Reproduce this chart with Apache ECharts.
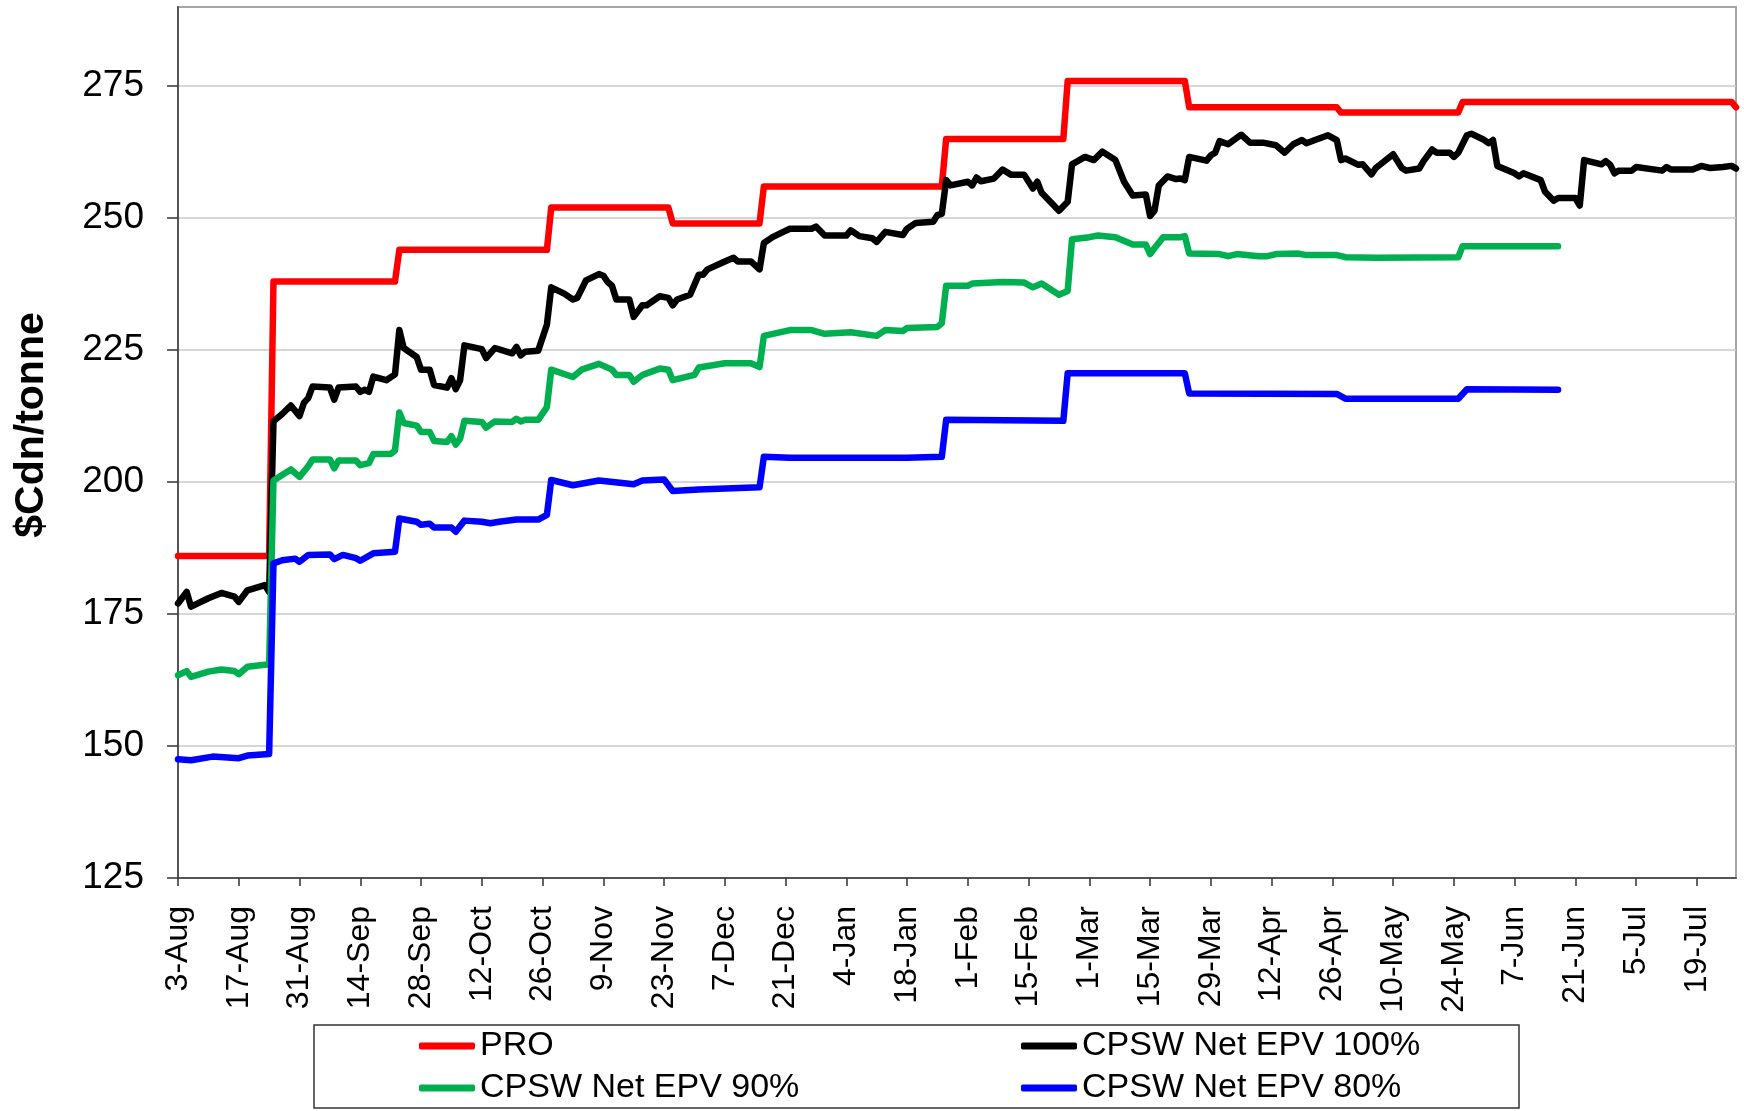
<!DOCTYPE html>
<html>
<head>
<meta charset="utf-8">
<title>PRO vs CPSW Net EPV</title>
<script src="https://cdn.jsdelivr.net/npm/echarts/dist/echarts.min.js"></script>
<style>
  html, body { margin: 0; padding: 0; background: #fff; }
  #chart { width: 1744px; height: 1111px; }
</style>
</head>
<body>
<div id="chart"></div>
<script>
// x values are days counted from 3-Aug (2009 crop year)
const xTickLabels = ['3-Aug', '17-Aug', '31-Aug', '14-Sep', '28-Sep', '12-Oct', '26-Oct',
  '9-Nov', '23-Nov', '7-Dec', '21-Dec', '4-Jan', '18-Jan', '1-Feb', '15-Feb', '1-Mar',
  '15-Mar', '29-Mar', '12-Apr', '26-Apr', '10-May', '24-May', '7-Jun', '21-Jun', '5-Jul', '19-Jul'];
const yTicks = [125, 150, 175, 200, 225, 250, 275];

const seriesNames = ['PRO', 'CPSW Net EPV 100%', 'CPSW Net EPV 90%', 'CPSW Net EPV 80%'];
const seriesColors = ['#ff0000', '#000000', '#00b050', '#0000ff'];

const pro = [[0, 186], [21, 186], [22, 238], [50, 238], [51, 244], [85, 244], [86, 252],
  [113, 252], [114, 249], [134, 249], [135, 256], [176, 256], [177, 265], [204, 265],
  [205, 276], [232, 276], [233, 271], [267, 271], [268, 270], [295, 270], [296, 272],
  [358, 272], [359, 271]];

const net100 = [[0, 177], [2, 179.2], [3, 176.4], [7, 178], [10, 179], [13, 178.3], [14, 177.3],
  [16, 179.5], [20, 180.5], [21, 179.2], [22, 211.5], [24, 212.9], [26, 214.5], [28, 212.5],
  [29, 215], [30, 215.9], [31, 218.1], [35, 217.9], [36, 215.6], [37, 217.9], [41, 218.1],
  [42, 217.1], [43, 217.5], [44, 217.1], [45, 220], [48, 219.3], [50, 220.4], [51, 228.8],
  [52, 225.4], [55, 223.7], [56, 221.3], [58, 221.3], [59, 218.4], [62, 217.9], [63, 219.7],
  [64, 217.6], [65, 219.3], [66, 225.9], [70, 225.2], [71, 223.5], [73, 225.4], [77, 224.4],
  [78, 225.6], [79, 224], [80, 224.7], [83, 224.9], [85, 229.8], [86, 236.9], [89, 235.7],
  [91, 234.6], [92, 234.9], [94, 238.2], [97, 239.4], [98, 239.1], [99, 237.9], [100, 237.2],
  [101, 234.6], [104, 234.6], [105, 231.3], [107, 233.5], [108, 233.5], [111, 235.2],
  [113, 234.9], [114, 233.5], [115, 234.6], [118, 235.5], [120, 239.3], [121, 239.3],
  [122, 240.3], [126, 241.8], [128, 242.5], [129, 241.8], [132, 241.8], [134, 240.3],
  [135, 245.3], [137, 246.4], [139, 247.2], [141, 248], [146, 248], [147, 248.4], [149, 246.7],
  [154, 246.7], [155, 247.7], [157, 246.6], [160, 246.2], [161, 245.5], [163, 247.4],
  [167, 246.8], [168, 248], [170, 249.1], [174, 249.3], [175, 250.6], [176, 250.8], [177, 257.2],
  [178, 256.2], [182, 256.9], [183, 256.2], [184, 257.7], [185, 257], [188, 257.5], [190, 259.2],
  [192, 258.2], [195, 258.2], [197, 255.6], [198, 256.9], [199, 254.8], [203, 251.4],
  [205, 253.1], [206, 260.2], [209, 261.6], [211, 261], [213, 262.6], [216, 261], [218, 256.9],
  [220, 254.3], [223, 254.5], [224, 250.4], [225, 251.4], [226, 256.2], [228, 257.9],
  [230, 257.4], [231, 257.5], [232, 257.2], [233, 261.6], [237, 260.9], [238, 261.9],
  [239, 262.4], [240, 264.6], [242, 264], [245, 265.8], [247, 264.3], [250, 264.3], [253, 263.8],
  [255, 262.4], [257, 264], [259, 264.8], [260, 264.2], [262, 264.8], [265, 265.7], [267, 264.8],
  [268, 261], [269, 261.3], [272, 260.1], [273, 260.2], [275, 258.3], [276, 259.5], [280, 262.1],
  [282, 259.5], [283, 259], [286, 259.4], [287, 260.8], [289, 263], [290, 262.4], [293, 262.4],
  [294, 261.6], [295, 262.4], [297, 265.7], [298, 266], [301, 264.8], [302, 264.2], [303, 264.8],
  [304, 259.9], [308, 258.5], [309, 257.9], [310, 258.5], [314, 257.2], [315, 255], [317, 253.3],
  [318, 253.8], [322, 253.8], [323, 252.4], [324, 261], [328, 260.2], [329, 260.8], [330, 260.1],
  [331, 258.5], [332, 259], [335, 259], [336, 259.7], [342, 259], [343, 259.7], [344, 259.2],
  [349, 259.2], [351, 259.9], [353, 259.5], [356, 259.7], [358, 259.9], [359, 259.4]];

const net90 = [[0, 163.4], [2, 164.2], [3, 163.1], [7, 164.1], [10, 164.5], [13, 164.2],
  [14, 163.6], [16, 165], [21, 165.5], [22, 200.3], [26, 202.4], [28, 201], [30, 203],
  [31, 204.3], [35, 204.3], [36, 202.6], [37, 204.1], [41, 204.1], [42, 203.2], [44, 203.6],
  [45, 205.3], [49, 205.3], [50, 206], [51, 213.2], [52, 211.2], [55, 210.7], [56, 209.5],
  [58, 209.5], [59, 207.8], [62, 207.6], [63, 208.7], [64, 207.1], [65, 208.2], [66, 211.6],
  [70, 211.4], [71, 210.3], [73, 211.5], [77, 211.4], [78, 212], [79, 211.5], [80, 211.8],
  [83, 211.8], [85, 214.2], [86, 221.3], [91, 219.9], [93, 221.3], [97, 222.4], [100, 221.3],
  [101, 220.3], [104, 220.3], [105, 219], [107, 220.3], [108, 220.6], [111, 221.5], [113, 221.3],
  [114, 219.3], [119, 220.3], [120, 221.7], [126, 222.5], [132, 222.5], [134, 221.8],
  [135, 227.7], [141, 228.8], [146, 228.8], [149, 228.1], [155, 228.4], [161, 227.7],
  [163, 228.8], [167, 228.6], [168, 229.2], [175, 229.4], [176, 230.1], [177, 237.2],
  [182, 237.2], [183, 237.6], [190, 237.9], [195, 237.8], [197, 236.9], [199, 237.6],
  [203, 235.5], [205, 236.2], [206, 246], [210, 246.4], [212, 246.7], [216, 246.4], [220, 245],
  [223, 245], [224, 243.2], [225, 244.3], [227, 246.4], [231, 246.4], [232, 246.6], [233, 243.3],
  [240, 243.2], [242, 242.8], [244, 243.2], [249, 242.8], [251, 242.8], [253, 243.2],
  [258, 243.3], [260, 243], [267, 243], [269, 242.6], [276, 242.5], [295, 242.6], [296, 244.7],
  [318, 244.7]];

const net80 = [[0, 147.5], [3, 147.3], [8, 148], [14, 147.7], [16, 148.2], [21, 148.5],
  [22, 184.6], [24, 185.2], [27, 185.5], [28, 184.9], [30, 186.2], [35, 186.3], [36, 185.4],
  [38, 186.2], [41, 185.6], [42, 185.1], [45, 186.5], [50, 186.8], [51, 193.1], [55, 192.5],
  [56, 191.9], [58, 192.1], [59, 191.4], [63, 191.4], [64, 190.6], [66, 192.7], [70, 192.5],
  [72, 192.2], [74, 192.5], [78, 192.9], [83, 192.9], [85, 193.8], [86, 200.4], [91, 199.4],
  [97, 200.3], [105, 199.6], [107, 200.3], [112, 200.5], [114, 198.3], [120, 198.6], [134, 199],
  [135, 204.8], [141, 204.6], [168, 204.6], [176, 204.8], [177, 211.8], [204, 211.6],
  [205, 220.6], [232, 220.6], [233, 216.8], [267, 216.7], [269, 215.8], [295, 215.8],
  [297, 217.6], [318, 217.5]];

const seriesData = [pro, net100, net90, net80];

const FONT = "'Liberation Sans', Arial, sans-serif";
const xTickDays = xTickLabels.map((d, i) => i * 14);

const chart = echarts.init(document.getElementById('chart'), null, { renderer: 'canvas' });

const option = {
  animation: false,
  backgroundColor: '#ffffff',
  grid: {
    left: 178,
    right: 8,
    top: 7,
    bottom: 233,
    show: true,
    borderColor: '#a6a6a6',
    borderWidth: 2
  },
  legend: {
    left: 314,
    top: 1025,
    width: 1010,
    padding: [3, 97, 2, 105],
    itemGap: 6,
    itemWidth: 56,
    itemHeight: 7,
    icon: 'roundRect',
    borderColor: '#333333',
    borderWidth: 1.5,
    textStyle: { fontSize: 34, fontFamily: FONT, color: '#000', lineHeight: 36 },
    data: seriesNames.map((name, i) => ({
      name: name,
      textStyle: { width: i % 2 === 0 ? 535 : 340 }
    })),
    selectedMode: false
  },
  xAxis: {
    type: 'value',
    min: 0,
    max: 359,
    interval: 14,
    axisLine: { lineStyle: { color: '#555555', width: 2 } },
    axisTick: { length: 8, lineStyle: { color: '#333333', width: 1.5 }, customValues: xTickDays },
    axisLabel: {
      rotate: 90,
      margin: 28,
      fontSize: 32,
      fontFamily: FONT,
      color: '#000',
      customValues: xTickDays,
      formatter: (v) => xTickLabels[Math.round(v / 14)] || ''
    },
    splitLine: { show: false }
  },
  yAxis: {
    type: 'value',
    min: 125,
    max: 290,
    interval: 25,
    name: '$Cdn/tonne',
    nameLocation: 'middle',
    nameGap: 126,
    nameRotate: 90,
    nameTextStyle: {
      fontSize: 41,
      fontWeight: 'bold',
      fontFamily: FONT,
      color: '#000',
      padding: [0, 0, 0, 35]
    },
    axisLine: { show: true, lineStyle: { color: '#555555', width: 2 } },
    axisTick: { show: true, length: 11, lineStyle: { color: '#333333', width: 1.5 }, customValues: yTicks },
    axisLabel: {
      margin: 34,
      fontSize: 37,
      fontFamily: FONT,
      color: '#000',
      customValues: yTicks
    },
    splitLine: { lineStyle: { color: '#c8c8c8', width: 1.5 } }
  },
  series: seriesNames.map((name, i) => ({
    name: name,
    type: 'line',
    data: seriesData[i],
    showSymbol: false,
    symbol: 'none',
    lineStyle: { color: seriesColors[i], width: 6.5, cap: 'round', join: 'round' },
    itemStyle: { color: seriesColors[i] }
  }))
};

chart.setOption(option);
</script>
</body>
</html>
